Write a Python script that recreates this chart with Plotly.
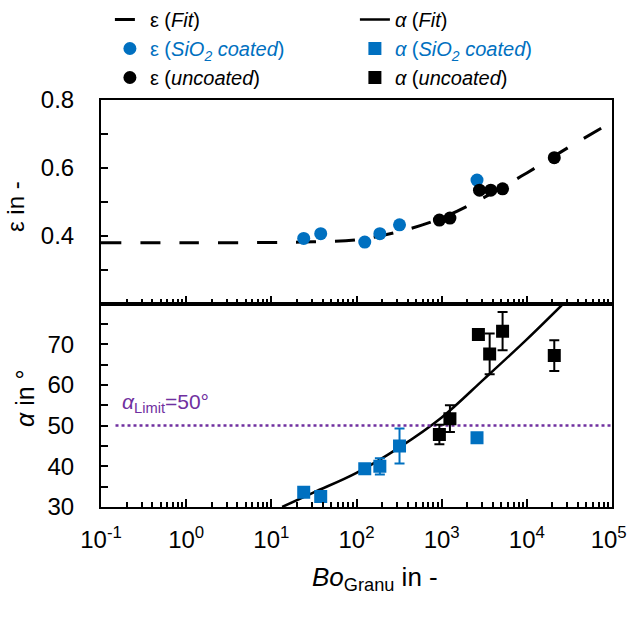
import plotly.graph_objects as go

BLUE = "#0070C0"
PURPLE = "#7030A0"
FONT = "Liberation Sans, Arial, sans-serif"

# ---- data ----
# porosity epsilon
eps_sio2_bo = [24, 38, 125, 188, 320, 2600]
eps_sio2 = [0.392, 0.406, 0.381, 0.406, 0.432, 0.564]
eps_unc_bo = [940, 1250, 2780, 3770, 5190, 21000]
eps_unc = [0.446, 0.452, 0.534, 0.534, 0.538, 0.630]
eps_fit_bo = [0.1, 1, 10, 31.6, 100, 316, 1000, 3162, 10000, 31623, 100000]
eps_fit = [0.379, 0.379, 0.380, 0.382, 0.388, 0.412, 0.452, 0.513, 0.585, 0.662, 0.735]

# angle alpha
alpha_sio2_bo = [24, 38, 125, 188, 320, 2600]
alpha_sio2 = [33.6, 32.6, 39.4, 40.0, 45.0, 47.0]
alpha_sio2_err = [0, 0, 0, 2.0, 4.3, 0]
alpha_unc_bo = [940, 1250, 2700, 3660, 5190, 21000]
alpha_unc = [47.8, 51.7, 72.4, 67.6, 73.2, 67.2]
alpha_unc_err = [2.4, 3.3, 0, 5.0, 4.7, 3.8]
alpha_fit_bo = [13.4, 31.6, 100, 316, 1000, 3162, 10000, 26900]
alpha_fit = [30.0, 33.6, 38.4, 44.6, 52.0, 61.5, 71.2, 80.0]

alpha_limit_bo = [0.148, 100000]
alpha_limit = [50, 50]

x_tickvals = [0.1, 1, 10, 100, 1000, 10000, 100000]
x_ticktext = ["10<sup>-1</sup>", "10<sup>0</sup>", "10<sup>1</sup>", "10<sup>2</sup>",
              "10<sup>3</sup>", "10<sup>4</sup>", "10<sup>5</sup>&nbsp;"]
eps_tickvals = [0.2, 0.3, 0.4, 0.5, 0.6, 0.7, 0.8]
eps_ticktext = ["", "", "0.4", "", "0.6", "", "0.8"]
alpha_tickvals = [30, 35, 40, 45, 50, 55, 60, 65, 70, 75, 80]
alpha_ticktext = ["30", "", "40", "", "50", "", "60", "", "70", "", ""]

minor_vals = [k * 10 ** e for e in range(-1, 5) for k in range(2, 10)]

fig = go.Figure()

fig.add_trace(go.Scatter(
    x=eps_fit_bo, y=eps_fit, mode="lines", line_shape="spline",
    line=dict(color="black", width=3, dash="20px,19px"),
    name="ε (<i>Fit</i>)", xaxis="x2", yaxis="y2"))
fig.add_trace(go.Scatter(
    x=alpha_fit_bo, y=alpha_fit, mode="lines", line_shape="spline",
    line=dict(color="black", width=2.5),
    name="<i>α</i> (<i>Fit</i>)", xaxis="x", yaxis="y"))
fig.add_trace(go.Scatter(
    x=alpha_limit_bo, y=alpha_limit, mode="lines",
    line=dict(color=PURPLE, width=2.5, dash="dot"),
    showlegend=False, xaxis="x", yaxis="y"))
fig.add_trace(go.Scatter(
    x=eps_sio2_bo, y=eps_sio2, mode="markers",
    marker=dict(symbol="circle", size=13, color=BLUE),
    name='<span style="color:#0070C0">ε (<i>SiO<sub>2</sub> coated</i>)</span>',
    xaxis="x2", yaxis="y2"))
fig.add_trace(go.Scatter(
    x=alpha_sio2_bo, y=alpha_sio2, mode="markers",
    marker=dict(symbol="square", size=13, color=BLUE),
    error_y=dict(type="data", array=alpha_sio2_err, color=BLUE, thickness=2, width=5),
    name='<span style="color:#0070C0"><i>α</i> (<i>SiO<sub>2</sub> coated</i>)</span>',
    xaxis="x", yaxis="y"))
fig.add_trace(go.Scatter(
    x=eps_unc_bo, y=eps_unc, mode="markers",
    marker=dict(symbol="circle", size=13, color="black"),
    name="ε (<i>uncoated</i>)", xaxis="x2", yaxis="y2"))
fig.add_trace(go.Scatter(
    x=alpha_unc_bo, y=alpha_unc, mode="markers",
    marker=dict(symbol="square", size=13, color="black"),
    error_y=dict(type="data", array=alpha_unc_err, color="black", thickness=2, width=5),
    name="<i>α</i> (<i>uncoated</i>)", xaxis="x", yaxis="y"))

axis_common = dict(showline=True, linewidth=2, linecolor="black", mirror=True,
                   ticks="inside", tickwidth=2, tickcolor="black", showgrid=False,
                   zeroline=False,
                   tickfont=dict(family=FONT, size=24, color="black"))

fig.update_layout(
    width=628, height=617,
    margin=dict(l=101, r=16, t=100, b=110, autoexpand=False),
    paper_bgcolor="white", plot_bgcolor="white",
    font=dict(family=FONT, color="black"),
    xaxis=dict(type="log", range=[-1, 5], domain=[0, 1], anchor="y",
               tickvals=x_tickvals, ticktext=x_ticktext, ticklen=8,
               ticklabelstandoff=10, ticklabeloverflow="allow",
               minor=dict(tickvals=minor_vals, ticks="inside", ticklen=5,
                          tickwidth=1.5, tickcolor="black"),
               **axis_common),
    xaxis2=dict(type="log", range=[-1, 5], domain=[0, 1], anchor="y2", matches="x",
                tickvals=x_tickvals, ticktext=x_ticktext, ticklen=8,
                showticklabels=False,
                minor=dict(tickvals=minor_vals, ticks="inside", ticklen=5,
                           tickwidth=1.5, tickcolor="black"),
                **axis_common),
    yaxis=dict(range=[30, 80], domain=[0, 0.5], anchor="x",
               tickvals=alpha_tickvals, ticktext=alpha_ticktext, ticklen=7,
               ticklabelstandoff=20, ticklabeloverflow="allow", **axis_common),
    yaxis2=dict(range=[0.2, 0.8], domain=[0.5, 1], anchor="x2",
                tickvals=eps_tickvals, ticktext=eps_ticktext, ticklen=7,
                ticklabelstandoff=20, ticklabeloverflow="allow", **axis_common),
    legend=dict(orientation="h", xref="container", yref="container",
                x=0.175, y=1.0, xanchor="left", yanchor="top",
                entrywidth=200, entrywidthmode="pixels",
                font=dict(family=FONT, size=20, color="black"),
                bgcolor="rgba(0,0,0,0)", traceorder="normal"),
    showlegend=True,
)

fig.add_annotation(text="ε in -", xref="paper", yref="paper",
                   x=(15 - 101) / 511, y=(507 - 207) / 407, textangle=-90,
                   xanchor="center", yanchor="middle",
                   showarrow=False, font=dict(family=FONT, size=24, color="black"))
fig.add_annotation(text="<i>α</i> in °", xref="paper", yref="paper",
                   x=(25 - 101) / 511, y=(507 - 398) / 407, textangle=-90,
                   xanchor="center", yanchor="middle",
                   showarrow=False, font=dict(family=FONT, size=25, color="black"))
fig.add_annotation(text="<i>Bo</i><sub>Granu</sub> in -", xref="paper", yref="paper",
                   x=(375 - 101) / 511, y=(507 - 578) / 407,
                   xanchor="center", yanchor="middle",
                   showarrow=False, font=dict(family=FONT, size=26, color="black"))
fig.add_annotation(text="<i>α</i><sub>Limit</sub>=50°", xref="paper", yref="paper",
                   x=(120 - 101) / 511, y=(507 - 403) / 407,
                   xanchor="left", yanchor="middle",
                   showarrow=False, font=dict(family=FONT, size=21, color=PURPLE))

fig.write_html("out.html")
